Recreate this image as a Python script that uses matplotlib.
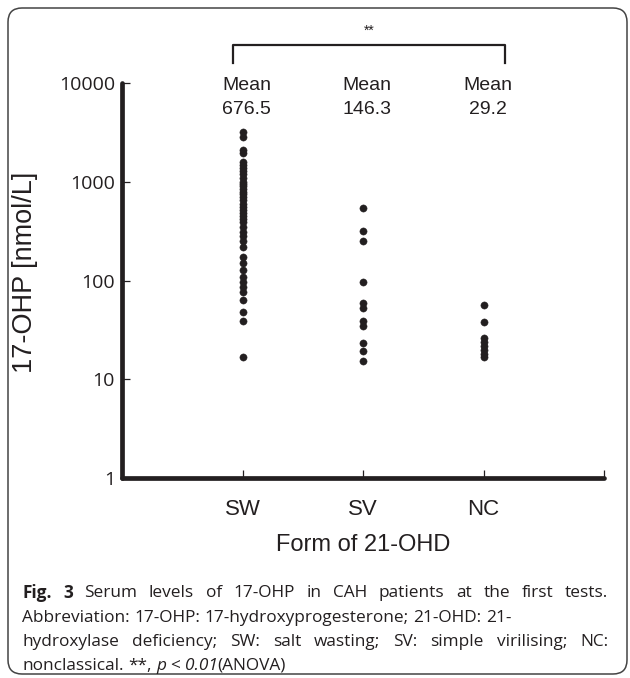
import matplotlib.pyplot as plt
from matplotlib.lines import Line2D
from matplotlib.patches import FancyBboxPatch
from matplotlib.transforms import IdentityTransform

# values (nmol/L)
groups = ['SW', 'SV', 'NC']
mean_labels = ['676.5', '146.3', '29.2']
sw = [3220, 2850, 2100, 1950, 1600, 1500, 1400, 1300, 1200, 1100, 1000, 950,
      900, 850, 800, 750, 700, 650, 600, 560, 520, 480, 450, 420, 390, 350,
      310, 285, 250, 220, 175, 150, 128, 110, 97, 86, 76, 63, 48, 39, 17]
sv = [540, 320, 255, 96, 60, 53, 39, 35, 23.5, 19.5, 15.5]
nc = [56, 38, 26, 24, 22, 20, 18, 17]
yticks = [1, 10, 100, 1000, 10000]

caption = [
    ("§Fig. 3§ Serum levels of 17-OHP in CAH patients at the first tests.", True),
    ("Abbreviation: 17-OHP: 17-hydroxyprogesterone; 21-OHD: 21-", False),
    ("hydroxylase deficiency; SW: salt wasting; SV: simple virilising; NC:", True),
    ("nonclassical. **, _p_ < _0.01_(ANOVA)", False),
]

W, H = 630, 678
ink = '#231f20'
chart_font = 'Liberation Sans'


def fx(px):
    return px / W


def fy(py):
    return 1 - py / H


fig = plt.figure(figsize=(W / 100, H / 100), dpi=100)

# rounded frame around figure + caption
frame = FancyBboxPatch((8, 4), 619, 666, boxstyle='round,pad=0,rounding_size=14',
                       transform=IdentityTransform(), fc='none', ec='#444444', lw=1.1)
fig.add_artist(frame)

ax = fig.add_axes([fx(122), fy(478), fx(604) - fx(122), fy(83.3) - fy(478)])
for i, vals in enumerate([sw, sv, nc]):
    ax.plot([i + 1] * len(vals), vals, 'o', color=ink, ms=5.2, mec=ink, mew=0.3)

ax.set_yscale('log')
ax.set_ylim(1, 10000)
ax.set_xlim(0, 4)
ax.minorticks_off()
ax.set_yticks(yticks)
ax.set_yticklabels([str(t) for t in yticks], fontsize=14, family='Open Sans', color=ink)
ax.set_xticks([1, 2, 3, 4])
ax.set_xticklabels(groups + [''], fontsize=16, family=chart_font, color=ink)
ax.tick_params(axis='y', direction='in', length=6, width=0.9, pad=5, color=ink)
ax.tick_params(axis='x', direction='in', length=6, width=0.9, pad=15, color=ink)
for s in ['top', 'right']:
    ax.spines[s].set_visible(False)
for s in ['left', 'bottom']:
    ax.spines[s].set_linewidth(3.4)
    ax.spines[s].set_color(ink)
    ax.spines[s].set_capstyle('round')
ax.set_xlabel('Form of 21-OHD', fontsize=17, family=chart_font, color=ink, labelpad=10)
ax.set_ylabel('17-OHP [nmol/L]', fontsize=19.5, family=chart_font, color=ink)
ax.yaxis.set_label_coords(-0.175, 0.52)

# mean labels
for i, m in enumerate(mean_labels):
    xp = 122 + (i + 1) * 120.5 + 4
    fig.text(fx(xp), fy(86), 'Mean', ha='center', va='center', fontsize=14,
             family=chart_font, color=ink)
    fig.text(fx(xp), fy(109), m, ha='center', va='center', fontsize=14,
             family=chart_font, color=ink)

# significance bracket
fig.add_artist(Line2D([fx(233), fx(233), fx(505), fx(505)],
                      [fy(63), fy(45), fy(45), fy(63)],
                      transform=fig.transFigure, color=ink, lw=1.6))
fig.text(fx(369), fy(31), '**', ha='center', va='center', fontsize=10,
         family=chart_font, color=ink)


# caption, drawn word by word so lines can be justified
def parse(line):
    b = i = False
    chars = []
    for ch in line:
        if ch == '§':
            b = not b
            continue
        if ch == '_':
            i = not i
            continue
        chars.append((ch, b, i))
    words, cur = [], []
    for c in chars:
        if c[0] == ' ':
            if cur:
                words.append(cur)
                cur = []
        else:
            cur.append(c)
    if cur:
        words.append(cur)
    out = []
    for w in words:
        runs = []
        for ch, bb, ii in w:
            if runs and runs[-1][1] == bb and runs[-1][2] == ii:
                runs[-1][0] += ch
            else:
                runs.append([ch, bb, ii])
        out.append(runs)
    return out


r = fig.canvas.get_renderer()
cap_size = 12.4
cap_kw = dict(fontsize=cap_size, family='Open Sans', color=ink, va='center')
t1 = fig.text(0, 0, 'a a', **cap_kw)
t2 = fig.text(0, 0, 'aa', **cap_kw)
space_w = t1.get_window_extent(r).width - t2.get_window_extent(r).width
t1.remove()
t2.remove()

x0, x1 = 22, 608
line_y = [593, 618, 642, 666]
for (line, justify), y in zip(caption, line_y):
    words = parse(line)
    drawn = []
    total = 0
    for w in words:
        objs = []
        ww = 0
        for txt, bb, ii in w:
            t = fig.text(0, fy(y), txt, fontweight='bold' if bb else 'normal',
                         fontstyle='italic' if ii else 'normal', **cap_kw)
            tw = t.get_window_extent(r).width
            objs.append((t, tw))
            ww += tw
        drawn.append((objs, ww))
        total += ww
    gap = (x1 - x0 - total) / (len(words) - 1) if justify else space_w
    x = x0
    for objs, ww in drawn:
        for t, tw in objs:
            t.set_x(fx(x))
            x += tw
        x += gap

fig.savefig('out.png', dpi=100)
